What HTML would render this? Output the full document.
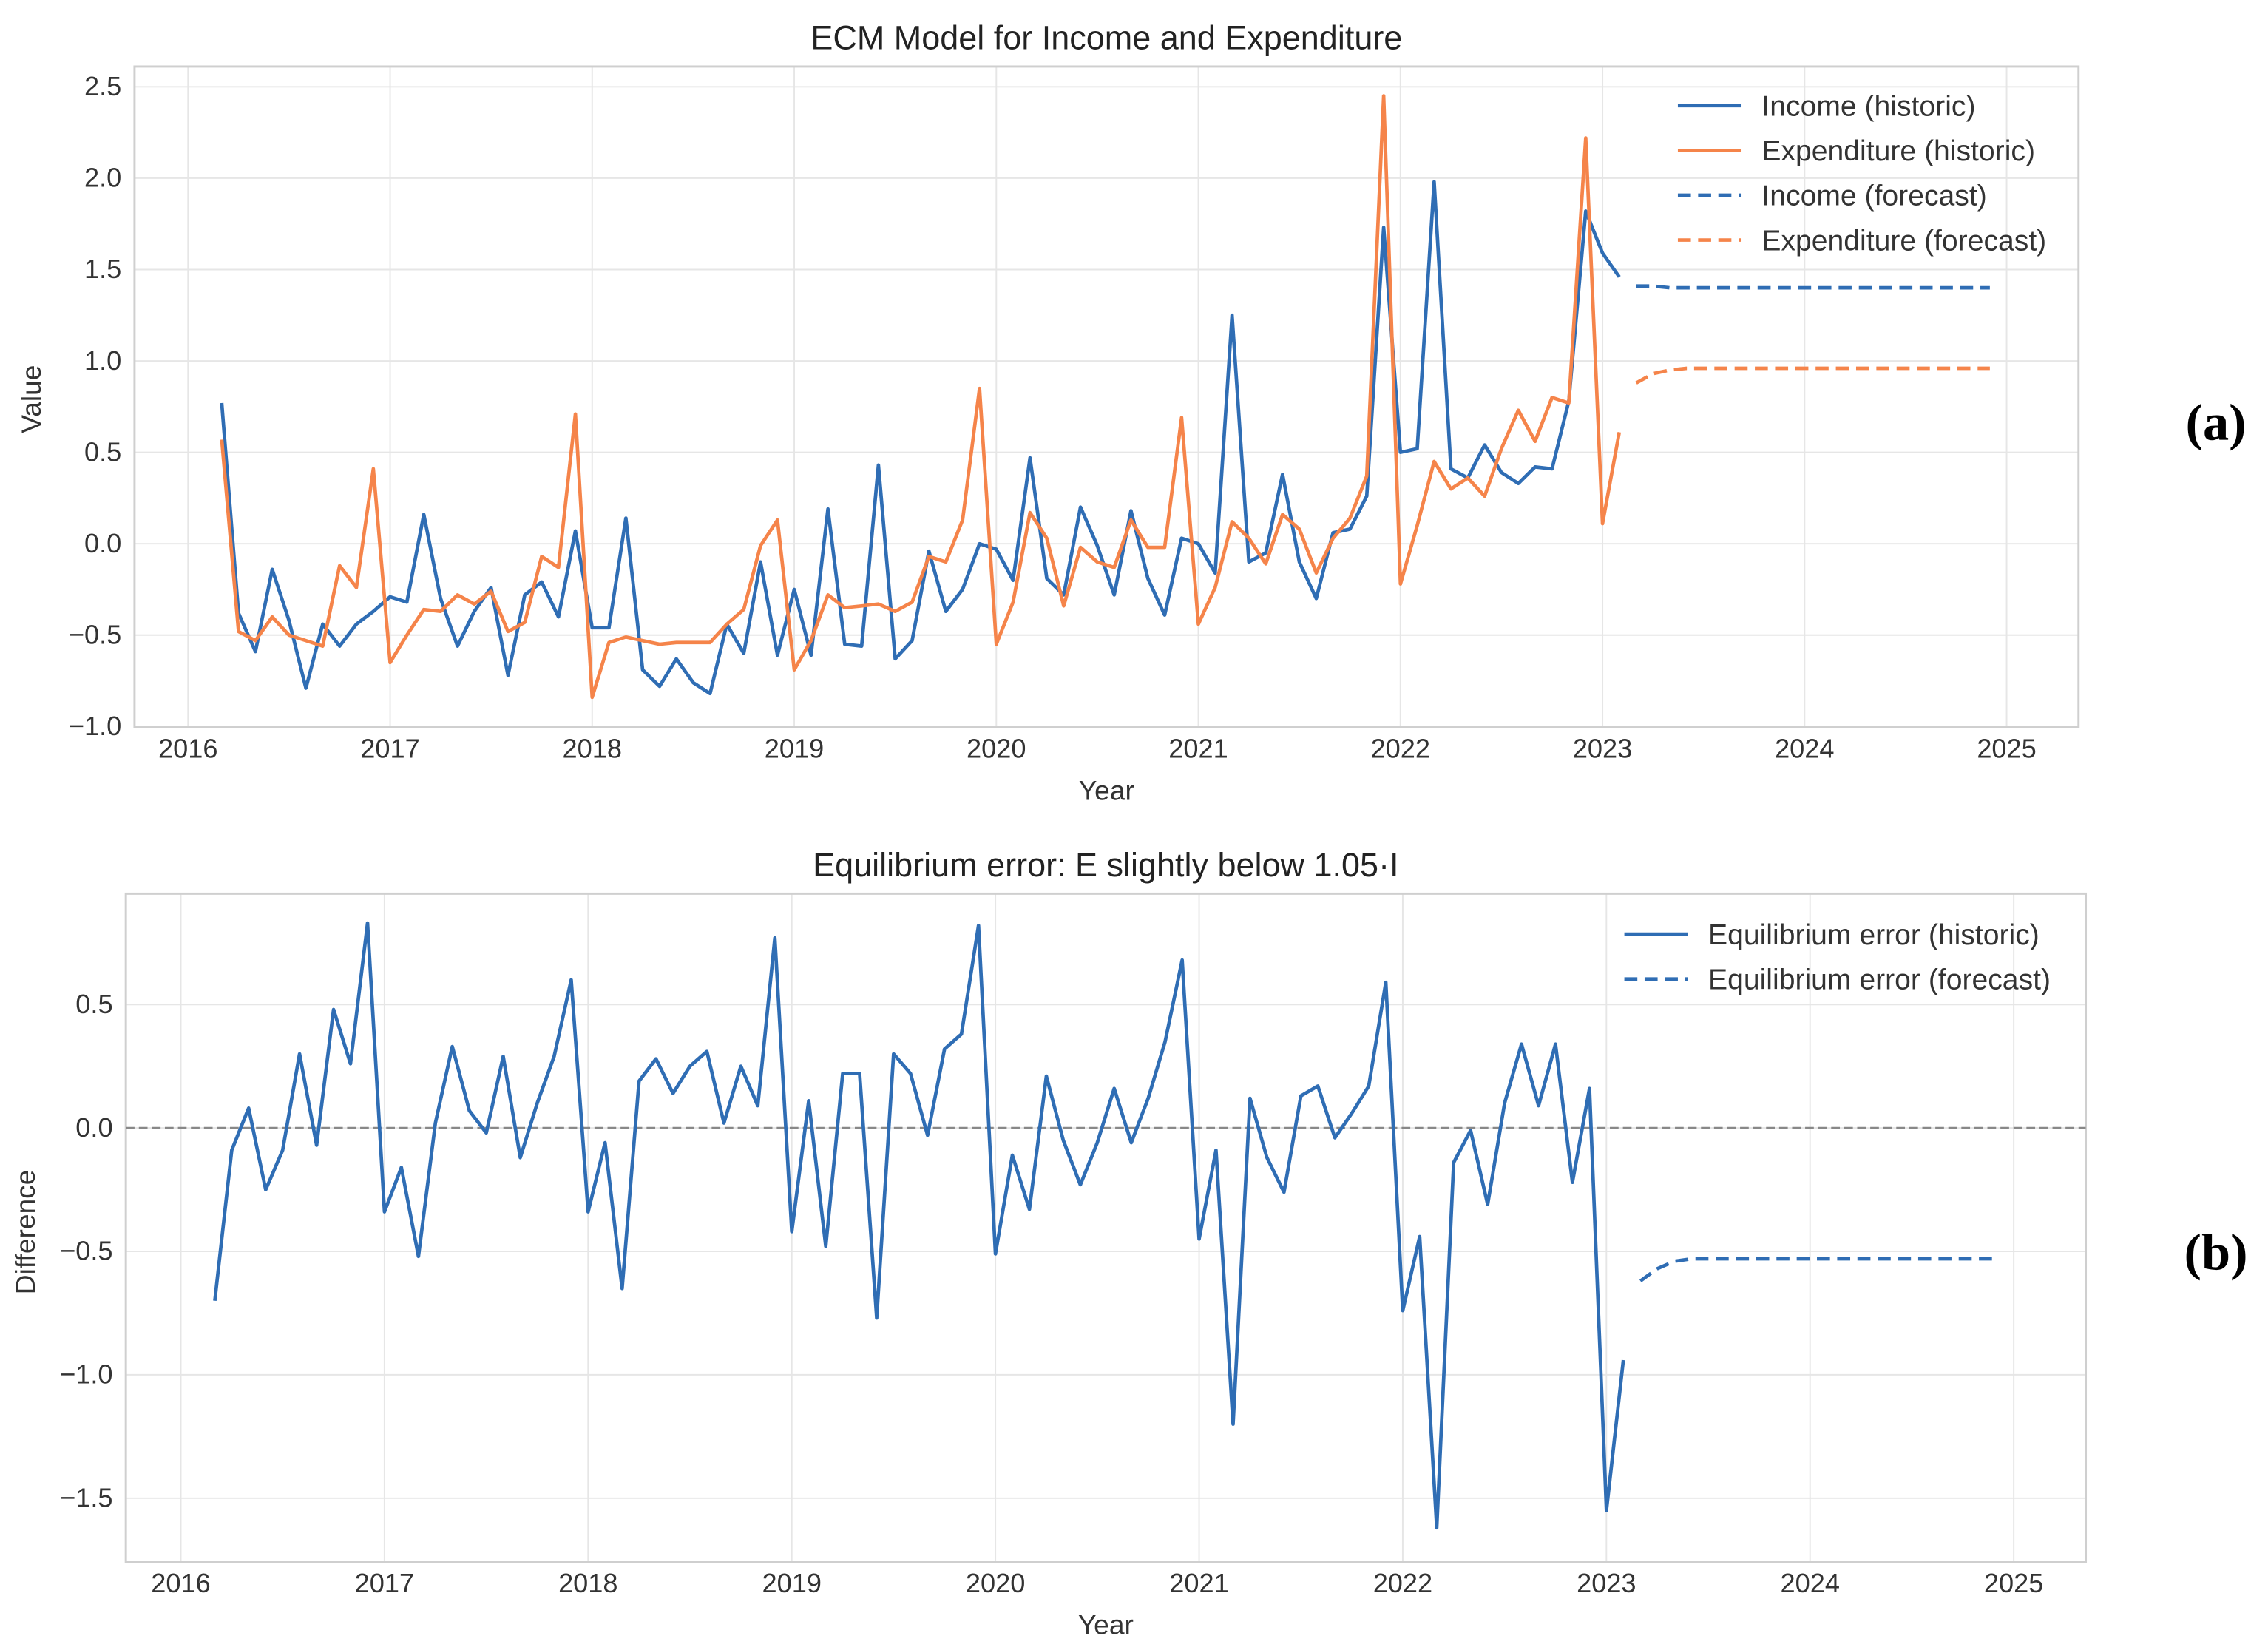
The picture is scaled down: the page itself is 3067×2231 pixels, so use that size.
<!DOCTYPE html>
<html><head><meta charset="utf-8"><style>
html,body{margin:0;padding:0;background:#fff;}
svg{display:block;font-family:"Liberation Sans",sans-serif;}
</style></head><body>
<svg id="fig" width="3067" height="2231" viewBox="0 0 1568 1141" preserveAspectRatio="none" xmlns="http://www.w3.org/2000/svg">
<rect x="0" y="0" width="1568" height="1141" fill="#fff"/>
<g id="top"></g>
<g id="bot"></g>
<text x="1532" y="304" text-anchor="middle" font-family="Liberation Serif, serif" font-weight="bold" font-size="36">(a)</text>
<text x="1532" y="878" text-anchor="middle" font-family="Liberation Serif, serif" font-weight="bold" font-size="36">(b)</text>
</svg>
<script>
const incomeHist = [0.77,-0.38,-0.59,-0.14,-0.42,-0.79,-0.44,-0.56,-0.44,-0.37,-0.29,-0.32,0.16,-0.30,-0.56,-0.37,-0.24,-0.72,-0.28,-0.21,-0.40,0.07,-0.46,-0.46,0.14,-0.69,-0.78,-0.63,-0.76,-0.82,-0.44,-0.60,-0.10,-0.61,-0.25,-0.61,0.19,-0.55,-0.56,0.43,-0.63,-0.53,-0.04,-0.37,-0.25,0.00,-0.03,-0.20,0.47,-0.19,-0.28,0.20,-0.01,-0.28,0.18,-0.19,-0.39,0.03,0.00,-0.16,1.25,-0.10,-0.05,0.38,-0.10,-0.30,0.06,0.08,0.26,1.73,0.50,0.52,1.98,0.41,0.36,0.54,0.39,0.33,0.42,0.41,0.78,1.82,1.59,1.46];
const expHist = [0.57,-0.48,-0.53,-0.40,-0.50,-0.53,-0.56,-0.12,-0.24,0.41,-0.65,-0.50,-0.36,-0.37,-0.28,-0.33,-0.26,-0.48,-0.43,-0.07,-0.13,0.71,-0.84,-0.54,-0.51,-0.53,-0.55,-0.54,-0.54,-0.54,-0.44,-0.36,-0.01,0.13,-0.69,-0.53,-0.28,-0.35,-0.34,-0.33,-0.37,-0.32,-0.07,-0.10,0.13,0.85,-0.55,-0.32,0.17,0.03,-0.34,-0.02,-0.10,-0.13,0.13,-0.02,-0.02,0.69,-0.44,-0.24,0.12,0.03,-0.11,0.16,0.08,-0.16,0.03,0.14,0.37,2.45,-0.22,0.10,0.45,0.30,0.36,0.26,0.52,0.73,0.56,0.80,0.77,2.22,0.11,0.61];
const incomeFc = [1.41,1.41,1.40,1.40,1.40,1.40,1.40,1.40,1.40,1.40,1.40,1.40,1.40,1.40,1.40,1.40,1.40,1.40,1.40,1.40,1.40,1.40];
const expFc = [0.88,0.93,0.95,0.96,0.96,0.96,0.96,0.96,0.96,0.96,0.96,0.96,0.96,0.96,0.96,0.96,0.96,0.96,0.96,0.96,0.96,0.96];
const errHist = [-0.70,-0.09,0.08,-0.25,-0.09,0.30,-0.07,0.48,0.26,0.83,-0.34,-0.16,-0.52,0.02,0.33,0.07,-0.02,0.29,-0.12,0.10,0.29,0.60,-0.34,-0.06,-0.65,0.19,0.28,0.14,0.25,0.31,0.02,0.25,0.09,0.77,-0.42,0.11,-0.48,0.22,0.22,-0.77,0.30,0.22,-0.03,0.32,0.38,0.82,-0.51,-0.11,-0.33,0.21,-0.05,-0.23,-0.06,0.16,-0.06,0.12,0.35,0.68,-0.45,-0.09,-1.20,0.12,-0.12,-0.26,0.13,0.17,-0.04,0.06,0.17,0.59,-0.74,-0.44,-1.62,-0.14,-0.01,-0.31,0.10,0.34,0.09,0.34,-0.22,0.16,-1.55,-0.94];
const errFc = [-0.62,-0.57,-0.54,-0.53,-0.53,-0.53,-0.53,-0.53,-0.53,-0.53,-0.53,-0.53,-0.53,-0.53,-0.53,-0.53,-0.53,-0.53,-0.53,-0.53,-0.53,-0.53];
const yearTicks = [2016,2017,2018,2019,2020,2021,2022,2023,2024,2025];
const topYTicks = [-1.0,-0.5,0.0,0.5,1.0,1.5,2.0,2.5];
const botYTicks = [-1.5,-1.0,-0.5,0.0,0.5];
const startYear = 2016 + 2/12;

const NS = "http://www.w3.org/2000/svg";
const BLUE = "#2f6db4", ORANGE = "#f5844a";
function mk(parent, tag, attrs, text){
  const e = document.createElementNS(NS, tag);
  for (const k in attrs) e.setAttribute(k, attrs[k]);
  if (text !== undefined) e.textContent = text;
  parent.appendChild(e);
  return e;
}
function fmt(v){ return (v<0?"\u2212":"") + Math.abs(v).toFixed(1); }

function panel(g, cfg){
  const X = t => cfg.x0 + (t - 2016) * cfg.px;
  const Y = v => cfg.yz - v * cfg.py;
  yearTicks.forEach(t => {
    const l = mk(g,"line",{x1:X(t),x2:X(t),y1:cfg.top,y2:cfg.bottom,stroke:"#e6e6e6","stroke-width":1});
    
    
    const tx = mk(g,"text",{x:X(t),y:cfg.bottom+21,"text-anchor":"middle","font-size":18.5,fill:"#333"}, String(t));
    
    
  });
  cfg.yticks.forEach(v => {
    const l = mk(g,"line",{x1:cfg.left,x2:cfg.right,y1:Y(v),y2:Y(v),stroke:"#e6e6e6","stroke-width":1});
    
    
    const tx = mk(g,"text",{x:cfg.left-9,y:Y(v)+6,"text-anchor":"end","font-size":18.5,fill:"#333"}, fmt(v));
    
    
  });
  const fr = mk(g,"rect",{x:cfg.left,y:cfg.top,width:cfg.right-cfg.left,height:cfg.bottom-cfg.top,fill:"none",stroke:"#cfcfcf","stroke-width":1.5});
  
  
  if (cfg.zero){
    const z = mk(g,"line",{x1:cfg.left,x2:cfg.right,y1:Y(0),y2:Y(0),stroke:"#888","stroke-width":1.4,"stroke-dasharray":"6,3"});
    
    
  }
  cfg.series.forEach(s => {
    const pts = s.data.map((v,i) => X(startYear + (s.off + i)/12).toFixed(1)+","+Y(v).toFixed(1)).join(" ");
    const p = mk(g,"polyline",{points:pts,fill:"none",stroke:s.color,"stroke-width":2.4,"stroke-linejoin":"round"});
    if (s.dash) p.setAttribute("stroke-dasharray","9,5");
    
    
  });
  const t = mk(g,"text",{x:(cfg.left+cfg.right)/2,y:cfg.top-12,"text-anchor":"middle","font-size":23,fill:"#222"}, cfg.title);
  
  
  const xl = mk(g,"text",{x:(cfg.left+cfg.right)/2,y:cfg.bottom+50,"text-anchor":"middle","font-size":19,fill:"#333"}, "Year");
  
  
  const yl = mk(g,"text",{x:0,y:0,"text-anchor":"middle","font-size":19,fill:"#333",transform:`translate(${cfg.ylx},${cfg.yly}) rotate(-90)`}, cfg.ylabel);
  
  
  cfg.legend.forEach((e,i) => {
    const y = cfg.lgy + i*31;
    const l = mk(g,"line",{x1:cfg.lgx,x2:cfg.lgx+44,y1:y,y2:y,stroke:e.color,"stroke-width":2.4});
    if (e.dash) l.setAttribute("stroke-dasharray","9,5");
    
    
    const tx = mk(g,"text",{x:cfg.lgx+58,y:y+7,"font-size":20,fill:"#333"}, e.label);
    
    
  });
}

panel(document.getElementById("top"), {
  left:93,right:1437,top:46,bottom:503,x0:130,px:139.7,yz:376,py:126.4,yticks:topYTicks,
  title:"ECM Model for Income and Expenditure", ylabel:"Value", ylx:28, yly:276,
  series:[
    {data:incomeHist,off:0,color:BLUE,name:"income-historic-line"},
    {data:expHist,off:0,color:ORANGE,name:"expenditure-historic-line"},
    {data:incomeFc,off:84,color:BLUE,dash:true,name:"income-forecast-line"},
    {data:expFc,off:84,color:ORANGE,dash:true,name:"expenditure-forecast-line"}],
  lgx:1160, lgy:73,
  legend:[{label:"Income (historic)",color:BLUE},{label:"Expenditure (historic)",color:ORANGE},
          {label:"Income (forecast)",color:BLUE,dash:true},{label:"Expenditure (forecast)",color:ORANGE,dash:true}]
});
panel(document.getElementById("bot"), {
  left:87,right:1442,top:618,bottom:1080,x0:125,px:140.8,yz:780,py:170.7,yticks:botYTicks,zero:true,
  title:"Equilibrium error: E slightly below 1.05\u00b7I", ylabel:"Difference", ylx:24, yly:852,
  series:[
    {data:errHist,off:0,color:BLUE,name:"error-historic-line"},
    {data:errFc,off:84,color:BLUE,dash:true,name:"error-forecast-line"}],
  lgx:1123, lgy:646,
  legend:[{label:"Equilibrium error (historic)",color:BLUE},{label:"Equilibrium error (forecast)",color:BLUE,dash:true}]
});
</script>
</body></html>
